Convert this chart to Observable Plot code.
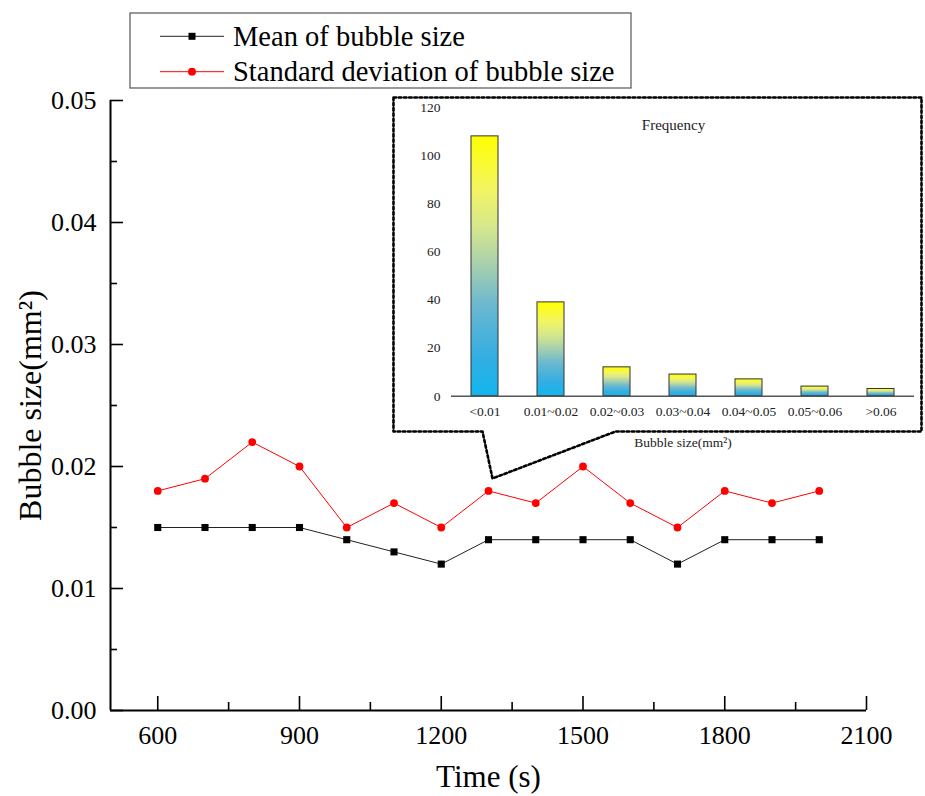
<!DOCTYPE html>
<html><head><meta charset="utf-8">
<script src="https://cdn.jsdelivr.net/npm/d3@7"></script>
<script src="https://cdn.jsdelivr.net/npm/@observablehq/plot@0.6"></script>
<style>
body{margin:0;background:#fff;}
#wrap{position:relative;width:925px;height:796px;font-family:"Liberation Serif","Times New Roman",serif;overflow:hidden;}
#wrap > svg{position:absolute;}
#wrap svg text{font-family:"Liberation Serif","Times New Roman",serif;}
</style></head><body><div id="wrap"></div>
<script>
// ---- data ----
const times = [600,700,800,900,1000,1100,1200,1300,1400,1500,1600,1700,1800,1900,2000];
const meanSize = [0.015,0.015,0.015,0.015,0.014,0.013,0.012,0.014,0.014,0.014,0.014,0.012,0.014,0.014,0.014];
const stdSize  = [0.018,0.019,0.022,0.020,0.015,0.017,0.015,0.018,0.017,0.020,0.017,0.015,0.018,0.017,0.018];
const xTicks = [600,900,1200,1500,1800,2100];
const xMinorTicks = [750,1050,1350,1650,1950];
const yTicks = [0,0.01,0.02,0.03,0.04,0.05];
const yMinorTicks = [0.005,0.015,0.025,0.035,0.045];
const seriesNames = ["Mean of bubble size","Standard deviation of bubble size"];
// inset histogram
const sizeBins = ["<0.01","0.01~0.02","0.02~0.03","0.03~0.04","0.04~0.05","0.05~0.06",">0.06"];
const binCounts = [108,39,12,9,7,4,3];
const freqTicks = [0,20,40,60,80,100,120];
// callout outline (time, size) linking inset to the 1300 s point
const calloutTime = [1098.9,2216.4,2216.4,1568.8,1308.5,1287.3,1098.9,1098.9];
const calloutSize = [0.05025,0.05025,0.02287,0.02287,0.01902,0.02287,0.02287,0.05025];

const meanRows = times.map((t,i)=>({t, v: meanSize[i]}));
const stdRows = times.map((t,i)=>({t, v: stdSize[i]}));
const calloutRows = calloutTime.map((t,i)=>({t, v: calloutSize[i]}));
const binRows = sizeBins.map((b,i)=>({bin: b, count: binCounts[i]}));

const wrap = document.getElementById("wrap");

// ---- main chart ----
const main = Plot.plot({
  width: 925, height: 796,
  marginLeft: 110, marginRight: 59, marginTop: 100, marginBottom: 86,
  style: {fontFamily: "Liberation Serif", fontSize: "26px", background: "transparent", color: "black", overflow: "visible"},
  x: {domain: [500, 2100], label: null},
  y: {domain: [0, 0.05], label: null},
  marks: [
    Plot.axisY(yTicks, {tickSize: 0, tickPadding: 14, tickFormat: d3.format(".2f"), label: null}),
    Plot.axisY(yTicks, {tickSize: 13, dx: 13, tickFormat: () => "", strokeWidth: 1.6, label: null}),
    Plot.axisY(yMinorTicks, {tickSize: 7, dx: 7, tickFormat: () => "", strokeWidth: 1.6, label: null}),
    Plot.axisX(xTicks, {tickSize: 0, tickPadding: 15, tickFormat: d => String(d), label: null}),
    Plot.axisX(xTicks, {tickSize: 14, dy: -14, tickFormat: () => "", strokeWidth: 1.6, label: null}),
    Plot.axisX(xMinorTicks, {tickSize: 8, dy: -8, tickFormat: () => "", strokeWidth: 1.6, label: null}),
    Plot.ruleX([500], {strokeWidth: 2}),
    Plot.ruleY([0], {strokeWidth: 2}),
    Plot.line(calloutRows, {x: "t", y: "v", stroke: "black", strokeWidth: 2.6, strokeDasharray: "2.6,2.6"}),
    Plot.line(stdRows, {x: "t", y: "v", stroke: "#ff0000", strokeWidth: 1}),
    Plot.dot(stdRows, {x: "t", y: "v", r: 3.9, fill: "#ff0000", stroke: null}),
    Plot.line(meanRows, {x: "t", y: "v", stroke: "#222", strokeWidth: 1}),
    Plot.dot(meanRows, {x: "t", y: "v", r: 4, symbol: "square", fill: "black", stroke: null}),
    Plot.text(["Time (s)"], {text: d => d, frameAnchor: "bottom", lineAnchor: "middle", textAnchor: "middle", dy: 67, fontSize: 31}),
    Plot.text(["Bubble size(mm²)"], {text: d => d, frameAnchor: "left", textAnchor: "middle", lineAnchor: "middle", dx: -80, rotate: -90, fontSize: 32})
  ]
});
main.style.left = "0px"; main.style.top = "0px";
wrap.appendChild(main);

// ---- inset histogram ----
const inset = Plot.plot({
  width: 529, height: 355,
  marginLeft: 58, marginRight: 8, marginTop: 10, marginBottom: 56.3,
  style: {fontFamily: "Liberation Serif", fontSize: "13.5px", background: "transparent", color: "#222", overflow: "visible"},
  x: {domain: sizeBins, paddingInner: 0.59, paddingOuter: 0.295, label: null},
  y: {domain: [0, 120], label: null},
  marks: [
    Plot.barY(binRows, {x: "bin", y: "count", fill: "url(#barGrad)", stroke: "#333", strokeWidth: 1}),
    Plot.ruleY([0], {stroke: "#555", strokeWidth: 1.5}),
    Plot.axisX({tickSize: 0, tickPadding: 10, label: null}),
    Plot.axisY(freqTicks, {tickSize: 0, tickPadding: 11, label: null}),
    Plot.text(["Frequency"], {text: d => d, frameAnchor: "top", lineAnchor: "middle", textAnchor: "middle", dy: 18, dx: -9.5, fontSize: 15}),
    Plot.text(["Bubble size(mm²)"], {text: d => d, frameAnchor: "bottom", lineAnchor: "middle", textAnchor: "middle", dy: 46})
  ]
});
const defs = d3.select(inset).insert("defs", ":first-child");
const grad = defs.append("linearGradient").attr("id", "barGrad")
  .attr("x1", 0).attr("y1", 1).attr("x2", 0).attr("y2", 0);
[[0, "#10b6ee"], [0.15, "#34aee2"], [0.35, "#6bb8d0"], [0.5, "#a6cfae"], [0.65, "#d6e88c"], [0.8, "#f3f560"], [1, "#ffff00"]]
  .forEach(([o, c]) => grad.append("stop").attr("offset", o).attr("stop-color", c));
inset.style.left = "393px"; inset.style.top = "97px";
wrap.appendChild(inset);

// ---- legend ----
const leg = d3.create("svg").attr("width", 503).attr("height", 78)
  .style("left", "129px").style("top", "12px").style("position", "absolute");
leg.append("rect").attr("x", 1).attr("y", 1).attr("width", 501).attr("height", 75)
  .attr("fill", "white").attr("stroke", "#555").attr("stroke-width", 1.2);
const legColors = ["#222", "#ff0000"];
seriesNames.forEach((name, i) => {
  const cy = 24.3 + i * 35.4;
  leg.append("line").attr("x1", 31).attr("x2", 95).attr("y1", cy).attr("y2", cy)
    .attr("stroke", legColors[i]).attr("stroke-width", 1);
  if (i === 0) leg.append("rect").attr("x", 59.5).attr("y", cy - 3.5).attr("width", 7).attr("height", 7).attr("fill", "black");
  else leg.append("circle").attr("cx", 63).attr("cy", cy).attr("r", 3.9).attr("fill", "#ff0000");
  leg.append("text").attr("x", 104).attr("y", cy + 9.5).attr("font-size", 28.5)
    .attr("fill", "black").text(name);
});
wrap.appendChild(leg.node());
</script></body></html>
